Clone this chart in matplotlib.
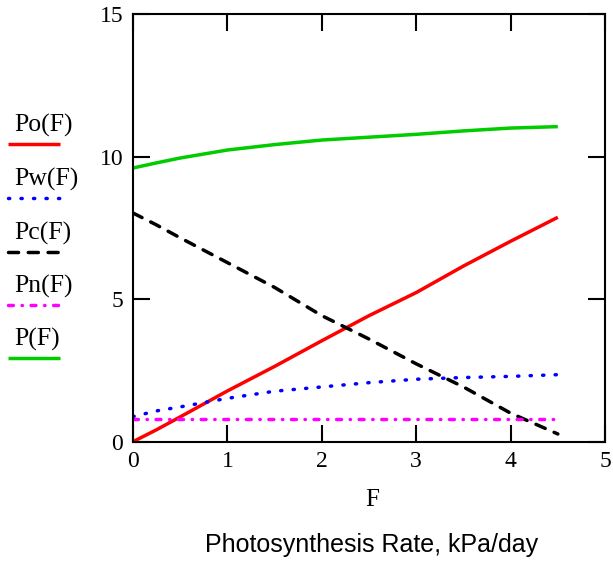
import matplotlib.pyplot as plt
from matplotlib.lines import Line2D

# values
F = [0, 0.25, 0.5, 1.0, 1.5, 2.0, 2.5, 3.0, 3.5, 4.0, 4.5]
Po = [0.0, 0.42, 0.87, 1.78, 2.64, 3.54, 4.42, 5.23, 6.16, 7.03, 7.87]
Pw = [0.88, 1.08, 1.22, 1.52, 1.77, 1.92, 2.07, 2.19, 2.25, 2.29, 2.35]
Pc = [8.02, 7.6, 7.15, 6.28, 5.41, 4.42, 3.6, 2.73, 1.92, 1.0, 0.27]
Pn = [0.78] * 11
P = [9.6, 9.78, 9.95, 10.23, 10.42, 10.58, 10.68, 10.78, 10.9, 11.0, 11.05]

names = ["Po(F)", "Pw(F)", "Pc(F)", "Pn(F)", "P(F)"]
series = [Po, Pw, Pc, Pn, P]
colors = ["#ff0000", "#0000ff", "#000000", "#ff00ff", "#00cc00"]
styles = ["-", (0, (0.35, 3.25)), (0, (2.9, 2.8)),
          (0, (1.4, 2.5, 0.1, 2.5)), "-"]

serif = "Liberation Serif"
LW = 2.5

fig = plt.figure(figsize=(6.13, 5.61), dpi=100)
ax = fig.add_axes([0.217, 0.2127, 0.77, 0.7623])

for y, c, ls in zip(series, colors, styles):
    ax.plot(F, y, color=c, linestyle=ls, lw=LW,
            dash_capstyle="round", solid_capstyle="butt")

ax.set_xlim(0, 5)
ax.set_ylim(0, 15)
ax.set_xticks([0, 1, 2, 3, 4, 5])
ax.set_yticks([0, 5, 10, 15])
ax.tick_params(direction="in", length=12, width=1.5, top=True, right=True,
               labelsize=17, pad=7)
for lab in ax.get_xticklabels() + ax.get_yticklabels():
    lab.set_fontfamily(serif)
for s in ax.spines.values():
    s.set_linewidth(1.5)

# legend on the left, Mathcad style
H = 561.0
W = 613.0
base_y = [132, 186, 240, 293, 346]
line_y = [144, 198, 252, 305, 358]
for name, c, ls, ty, ly in zip(names, colors, styles, base_y, line_y):
    fig.text(14 / W, 1 - ty / H, name, family=serif, fontsize=18.5,
             va="baseline", ha="left")
    fig.add_artist(Line2D([8 / W, 60 / W], [1 - ly / H, 1 - ly / H],
                          color=c, linestyle=ls, lw=LW,
                          dash_capstyle="round", solid_capstyle="butt",
                          transform=fig.transFigure))

fig.text(372 / W, 1 - 500 / H, "F", family=serif, fontsize=18,
         ha="center", va="center")
fig.text(372 / W, 1 - 545 / H, "Photosynthesis Rate, kPa/day",
         family="Liberation Sans", fontsize=18, ha="center", va="center")

fig.savefig("out.png", dpi=100)
